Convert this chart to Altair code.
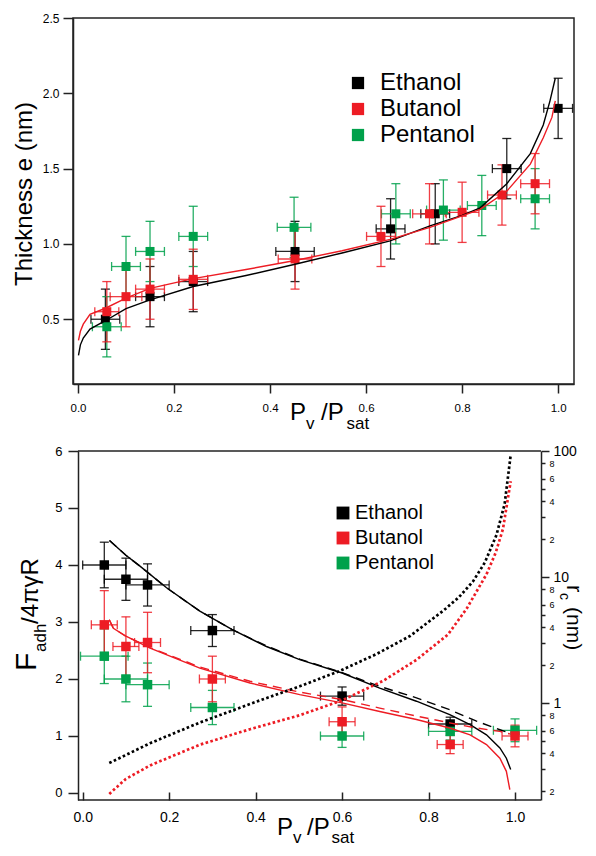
import altair as alt
import pandas as pd

FONT = "Liberation Sans"
names = ["Ethanol", "Butanol", "Pentanol"]
palette = ["#000000", "#ED1C24", "#00A14B"]
draw_order = ["Ethanol", "Pentanol", "Butanol"]
COL = dict(zip(names, palette))

# ---------------- top panel : film thickness ----------------
t_eth_x = [0.057, 0.15, 0.24, 0.452, 0.651, 0.744, 0.893, 1.0]
t_eth_y = [0.50, 0.65, 0.75, 0.95, 1.10, 1.20, 1.50, 1.90]
t_eth_xe = [0.03, 0.03, 0.03, 0.04, 0.03, 0.03, 0.03, 0.03]
t_eth_ye = [0.2, 0.2, 0.2, 0.2, 0.2, 0.2, 0.2, 0.2]

t_but_x = [0.06, 0.10, 0.15, 0.24, 0.452, 0.631, 0.732, 0.80, 0.883, 0.952]
t_but_y = [0.55, 0.65, 0.70, 0.765, 0.90, 1.05, 1.20, 1.21, 1.325, 1.40]
t_but_xe = [0.025, 0.033, 0.03, 0.03, 0.035, 0.03, 0.035, 0.035, 0.03, 0.03]
t_but_ye = [0.2, 0.2, 0.2, 0.2, 0.2, 0.2, 0.2, 0.2, 0.2, 0.2]

t_pen_x = [0.06, 0.10, 0.15, 0.24, 0.45, 0.662, 0.761, 0.841, 0.952]
t_pen_y = [0.45, 0.85, 0.95, 1.05, 1.11, 1.20, 1.225, 1.255, 1.30]
t_pen_xe = [0.03, 0.03, 0.03, 0.03, 0.035, 0.03, 0.035, 0.03, 0.03]
t_pen_ye = [0.2, 0.2, 0.2, 0.2, 0.2, 0.2, 0.2, 0.2, 0.2]

tc_eth_x = [0.001, 0.005, 0.011, 0.025, 0.057, 0.10, 0.15, 0.24, 0.35, 0.452, 0.55, 0.65,
            0.733, 0.80, 0.8375, 0.893, 0.942, 0.969, 0.983, 0.994]
tc_eth_y = [0.26, 0.33, 0.375, 0.435, 0.49, 0.57, 0.628, 0.717, 0.79, 0.865, 0.94, 1.02,
            1.12, 1.19, 1.24, 1.40, 1.60, 1.79, 1.95, 2.10]
tc_but_x = [0.001, 0.005, 0.011, 0.025, 0.057, 0.10, 0.15, 0.24, 0.35, 0.452, 0.55, 0.65,
            0.733, 0.8375, 0.893, 0.942, 0.969, 0.987, 0.994]
tc_but_y = [0.36, 0.42, 0.467, 0.533, 0.573, 0.64, 0.705, 0.77, 0.83, 0.89, 0.955, 1.03,
            1.11, 1.23, 1.35, 1.53, 1.705, 1.84, 1.95]

# ---------------- bottom panel : adhesion force ----------------
b_eth_x = [0.05, 0.10, 0.15, 0.30, 0.60, 0.85]
b_eth_y = [4.0, 3.75, 3.65, 2.85, 1.70, 1.21]
b_eth_xe = [0.05, 0.05, 0.05, 0.05, 0.05, 0.05]
b_eth_ye = [0.4, 0.37, 0.37, 0.28, 0.16, 0.12]

b_but_x = [0.05, 0.10, 0.15, 0.30, 0.60, 0.85, 1.0]
b_but_y = [2.95, 2.57, 2.64, 2.0, 1.25, 0.85, 1.0]
b_but_xe = [0.03, 0.03, 0.03, 0.03, 0.03, 0.03, 0.03]
b_but_ye = [0.6, 0.52, 0.53, 0.4, 0.26, 0.16, 0.19]

b_pen_x = [0.05, 0.10, 0.15, 0.30, 0.60, 0.85, 1.0]
b_pen_y = [2.4, 2.0, 1.9, 1.5, 1.0, 1.08, 1.1]
b_pen_xe = [0.055, 0.05, 0.05, 0.05, 0.05, 0.05, 0.05]
b_pen_ye = [0.48, 0.4, 0.38, 0.3, 0.2, 0.15, 0.2]

bc_eth_x = [0.062, 0.10, 0.1325, 0.194, 0.271, 0.345, 0.425, 0.502, 0.6, 0.687, 0.772,
            0.849, 0.896, 0.934, 0.965, 0.98, 0.99]
bc_eth_y = [4.43, 4.17, 3.98, 3.60, 3.19, 2.87, 2.57, 2.34, 2.105, 1.84, 1.61,
            1.374, 1.20, 1.02, 0.79, 0.61, 0.41]
bd_eth_x = [0.062, 0.10, 0.1325, 0.194, 0.271, 0.345, 0.425, 0.502, 0.6, 0.687, 0.772,
            0.849, 0.911, 0.965, 0.988]
bd_eth_y = [4.43, 4.17, 3.98, 3.60, 3.19, 2.87, 2.58, 2.35, 2.11, 1.87, 1.67,
            1.46, 1.26, 1.11, 1.05]
bc_but_x = [0.0615, 0.071, 0.10, 0.156, 0.271, 0.387, 0.502, 0.6, 0.687, 0.772, 0.849,
            0.896, 0.934, 0.965, 0.98, 0.988]
bc_but_y = [3.04, 2.89, 2.75, 2.54, 2.19, 1.93, 1.725, 1.58, 1.43, 1.29, 1.14,
            1.02, 0.85, 0.61, 0.38, 0.06]
bd_but_x = [0.0615, 0.071, 0.10, 0.156, 0.271, 0.387, 0.502, 0.6, 0.687, 0.772, 0.849,
            0.911, 0.965, 0.988]
bd_but_y = [3.04, 2.89, 2.75, 2.55, 2.21, 1.96, 1.77, 1.64, 1.49, 1.35, 1.23,
            1.14, 1.08, 1.035]

rc_eth_x = [0.0615, 0.156, 0.271, 0.40, 0.502, 0.595, 0.68, 0.757, 0.834, 0.87, 0.903,
            0.93, 0.957, 0.976, 0.99]
rc_eth_y = [0.334, 0.48, 0.70, 1.02, 1.357, 1.80, 2.45, 3.4, 5.4, 6.9, 9.25,
            13.0, 21.5, 38.0, 93.0]
rc_but_x = [0.0615, 0.10, 0.156, 0.271, 0.387, 0.502, 0.6, 0.695, 0.772, 0.845, 0.888,
            0.934, 0.955, 0.972, 0.99]
rc_but_y = [0.19, 0.25, 0.32, 0.467, 0.62, 0.80, 1.05, 1.5, 2.2, 3.5, 5.6, 10.5, 15.5,
            24.0, 57.5]

x_ticks = [0.0, 0.2, 0.4, 0.6, 0.8, 1.0]
t_y_ticks = [0.5, 1.0, 1.5, 2.0, 2.5]
b_y_ticks = [0, 1, 2, 3, 4, 5, 6]
rc_ticks = [0.2, 0.3, 0.4, 0.5, 0.6, 0.8, 1, 2, 3, 4, 5, 6, 8, 10, 20, 30, 40, 50, 60, 80, 100]


def make_df(name, xs, ys, xe, ye):
    return pd.DataFrame({
        "series": name, "x": xs, "y": ys,
        "xlo": [a - b for a, b in zip(xs, xe)], "xhi": [a + b for a, b in zip(xs, xe)],
        "ylo": [a - b for a, b in zip(ys, ye)], "yhi": [a + b for a, b in zip(ys, ye)],
    })


def err_layers(df, color, xs, ys, xa, ya, cap):
    base = alt.Chart(df)
    sw = 1.3
    vr = base.mark_rule(color=color, strokeWidth=sw, opacity=0.85).encode(
        x=alt.X("x:Q", scale=xs, axis=xa), y=alt.Y("ylo:Q", scale=ys, axis=ya), y2="yhi:Q")
    hr = base.mark_rule(color=color, strokeWidth=sw, opacity=0.85).encode(
        x=alt.X("xlo:Q", scale=xs, axis=xa), x2="xhi:Q", y=alt.Y("y:Q", scale=ys, axis=ya))
    cy = base.transform_fold(["ylo", "yhi"], as_=["k", "v"]).mark_tick(
        color=color, orient="horizontal", size=cap, thickness=sw, opacity=0.85).encode(
        x=alt.X("x:Q", scale=xs, axis=xa), y=alt.Y("v:Q", scale=ys, axis=ya))
    cx = base.transform_fold(["xlo", "xhi"], as_=["k", "v"]).mark_tick(
        color=color, orient="vertical", size=cap, thickness=sw, opacity=0.85).encode(
        x=alt.X("v:Q", scale=xs, axis=xa), y=alt.Y("y:Q", scale=ys, axis=ya))
    return [vr, hr, cy, cx]


one = pd.DataFrame({"k": [0]})


def label(txt, px, py, size, angle=0):
    return alt.Chart(one).mark_text(
        text=txt, align="left", baseline="alphabetic", fontSize=size, font=FONT,
        color="black", angle=angle).encode(x=alt.value(px), y=alt.value(py))


def curve(xs, ys, xsc, ysc, xa, ya, color, dash=None, width=1.4):
    df = pd.DataFrame({"x": xs, "y": ys})
    kw = dict(color=color, strokeWidth=width)
    if dash is not None:
        kw["strokeDash"] = dash
    return alt.Chart(df).mark_line(**kw).encode(
        x=alt.X("x:Q", scale=xsc, axis=xa), y=alt.Y("y:Q", scale=ysc, axis=ya))


# ================= top panel =================
xs1 = alt.Scale(domain=[-0.0104, 1.033], nice=False, zero=False)
ys1 = alt.Scale(domain=[0.07, 2.5], nice=False, zero=False)
x_axis1 = alt.Axis(values=x_ticks, format=".1f", title=None, tickSize=9, labelPadding=9,
                   labelFontSize=11.5, labelFlush=False, labelOverlap=False)
y_axis1 = alt.Axis(values=t_y_ticks, format=".1f", title=None, tickSize=10,
                   labelFontSize=12, labelPadding=4, labelFlush=False, labelOverlap=False)

top_sets = {
    "Ethanol": make_df("Ethanol", t_eth_x, t_eth_y, t_eth_xe, t_eth_ye),
    "Butanol": make_df("Butanol", t_but_x, t_but_y, t_but_xe, t_but_ye),
    "Pentanol": make_df("Pentanol", t_pen_x, t_pen_y, t_pen_xe, t_pen_ye),
}
top_df = pd.concat([top_sets[n] for n in draw_order], ignore_index=True)

top_layers = []
for n in draw_order:
    top_layers += err_layers(top_sets[n], COL[n], xs1, ys1, x_axis1, y_axis1, 9)

leg1 = alt.Legend(title=None, orient="none", legendX=273, legendY=53, direction="vertical",
                  symbolType="square", symbolSize=150, symbolStrokeWidth=0, labelFontSize=24,
                  labelFont=FONT, labelOffset=10, rowPadding=2, padding=0, labelColor="black")

pts1 = alt.Chart(top_df).mark_square(size=81, opacity=1).encode(
    x=alt.X("x:Q", scale=xs1, axis=x_axis1),
    y=alt.Y("y:Q", scale=ys1, axis=y_axis1),
    color=alt.Color("series:N", scale=alt.Scale(domain=names, range=palette), legend=leg1),
)
top_layers.append(pts1)
top_layers.append(curve(tc_eth_x, tc_eth_y, xs1, ys1, x_axis1, y_axis1, "#000000"))
top_layers.append(curve(tc_but_x, tc_but_y, xs1, ys1, x_axis1, y_axis1, "#ED1C24"))
top_layers += [
    label("Thickness e (nm)", -41, 268, 24, 270),
    label("P", 217, 401.7, 24), label("v", 233, 411, 17),
    label("/P", 248, 401.7, 24), label("sat", 273.5, 411, 17),
]
top = alt.layer(*top_layers).properties(
    width=501, height=366, view=alt.ViewBackground(stroke="#222", strokeWidth=1.5))

# ================= bottom panel =================
XL2 = -0.0224
XR2 = 1.0601
XAX2 = -0.0108
YB2 = -0.123
YT2 = 6.0
xs2 = alt.Scale(domain=[XL2, XR2], nice=False, zero=False)
ys2 = alt.Scale(domain=[YB2, YT2], nice=False, zero=False)
rs2 = alt.Scale(type="log", domain=[0.17, 100], nice=False)

x_axis2 = alt.Axis(values=x_ticks, format=".1f", title=None, offset=-8, tickSize=8,
                   domain=False, labelPadding=10, labelFontSize=14, labelFlush=False,
                   labelOverlap=False)
y_axis2 = alt.Axis(values=b_y_ticks, format="d", title=None, offset=-5, tickSize=10,
                   labelPadding=6, labelFontSize=13, labelFlush=False, labelOverlap=False)

bot_sets = {
    "Ethanol": make_df("Ethanol", b_eth_x, b_eth_y, b_eth_xe, b_eth_ye),
    "Butanol": make_df("Butanol", b_but_x, b_but_y, b_but_xe, b_but_ye),
    "Pentanol": make_df("Pentanol", b_pen_x, b_pen_y, b_pen_xe, b_pen_ye),
}
bot_df = pd.concat([bot_sets[n] for n in draw_order], ignore_index=True)

frame_df = pd.DataFrame({"x1": [XAX2, XAX2], "x2": [XR2, XR2], "y": [YT2, YB2]})
frame = alt.Chart(frame_df).mark_rule(color="#222", strokeWidth=1.5).encode(
    x=alt.X("x1:Q", scale=xs2, axis=x_axis2), x2="x2:Q",
    y=alt.Y("y:Q", scale=ys2, axis=y_axis2))

left_layers = [frame]
for n in draw_order:
    left_layers += err_layers(bot_sets[n], COL[n], xs2, ys2, x_axis2, y_axis2, 9)

leg2 = alt.Legend(title=None, orient="none", legendX=260, legendY=52, direction="vertical",
                  symbolType="square", symbolSize=165, symbolStrokeWidth=0, labelFontSize=20,
                  labelFont=FONT, labelOffset=2, rowPadding=5, padding=0, labelColor="black")

pts2 = alt.Chart(bot_df).mark_square(size=90, opacity=1).encode(
    x=alt.X("x:Q", scale=xs2, axis=x_axis2),
    y=alt.Y("y:Q", scale=ys2, axis=y_axis2),
    color=alt.Color("series:N", scale=alt.Scale(domain=names, range=palette), legend=leg2),
)
left_layers.append(pts2)
left_layers.append(curve(bc_eth_x, bc_eth_y, xs2, ys2, x_axis2, y_axis2, "#000000"))
left_layers.append(curve(bd_eth_x, bd_eth_y, xs2, ys2, x_axis2, y_axis2, "#000000", dash=[9, 6]))
left_layers.append(curve(bc_but_x, bc_but_y, xs2, ys2, x_axis2, y_axis2, "#ED1C24"))
left_layers.append(curve(bd_but_x, bd_but_y, xs2, ys2, x_axis2, y_axis2, "#ED1C24", dash=[9, 6]))
left_layers += [
    label("P", 204, 384, 24), label("v", 220, 392, 17),
    label("/P", 234, 384, 24), label("sat", 258.5, 392, 17),
    label("F", -37, 220, 30, 270), label("adh", -27, 201, 17, 270),
    label("/4πγR", -35, 173, 24, 270),
    label("r", 494, 134, 22, 90), label("c", 487, 142, 14, 90),
    label("(nm)", 494, 156, 21, 90),
]
left = alt.layer(*left_layers)

major = "datum.value == 1 || datum.value == 10 || datum.value == 100"
r_axis = alt.Axis(
    orient="right", values=rc_ticks, format="~g", title=None,
    labelExpr=("(" + major + ") ? datum.label : (indexof([0.2,0.4,0.6,0.8,2,4,6,8,20,40,60,80], "
               "datum.value) >= 0 ? substring(toString(round(datum.value*1000)), 0, 1) : '')"),
    labelFontSize={"condition": {"test": major, "value": 14}, "value": 9},
    tickSize={"condition": {"test": major, "value": 8}, "value": 4},
    labelPadding=4, labelFlush=False, labelOverlap=False,
)
right = alt.layer(
    curve(rc_eth_x, rc_eth_y, xs2, rs2, x_axis2, r_axis, "#000000", dash=[2.6, 2.4], width=2.7),
    curve(rc_but_x, rc_but_y, xs2, rs2, x_axis2, r_axis, "#ED1C24", dash=[2.6, 2.4], width=2.7),
)

bottom = alt.layer(left, right).resolve_scale(y="independent").properties(width=468, height=349)

chart = (
    alt.vconcat(top, bottom, spacing=67, bounds="flush")
    .resolve_scale(color="independent")
    .resolve_legend(color="independent")
    .properties(padding={"left": 4, "top": 3, "right": 3, "bottom": 0})
    .configure(font=FONT)
    .configure_axis(labelFont=FONT, titleFont=FONT, labelColor="#000", titleColor="#000",
                    domainColor="#222", tickColor="#222", domainWidth=1.5, tickWidth=1.5,
                    grid=False)
    .configure_view(strokeWidth=0)
)

chart.save("out.html", embed_options={"renderer": "svg", "actions": False})
